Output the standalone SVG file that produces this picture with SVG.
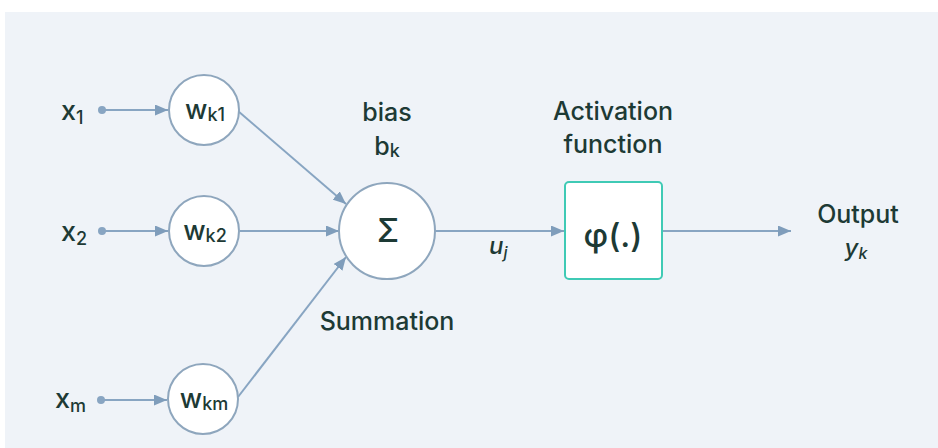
<svg xmlns="http://www.w3.org/2000/svg" width="938" height="448" viewBox="0 0 938 448">
<style>
.t{font-family:Inter,"Noto Sans","DejaVu Sans",sans-serif;fill:#1d3a35;font-weight:500}
.lbl{font-size:25px;text-anchor:middle}
.node{fill:#ffffff;stroke:#8ea6bd;stroke-width:2}
.edge{stroke:#88a5c2;stroke-width:2;fill:none}
.big{font-size:27px}
.sub{font-size:18px}
.dot{fill:#88a5c2}
</style>
<defs>
<marker id="ah" viewBox="0 0 13 11" refX="13" refY="5.5" markerWidth="13" markerHeight="11" markerUnits="userSpaceOnUse" orient="auto">
<path d="M0,0 L13,5.5 L0,11 z" fill="#7f9dbb"/>
</marker>
</defs>
<rect x="0" y="0" width="938" height="448" fill="#ffffff"/>
<rect x="5" y="12" width="933" height="436" fill="#eff3f8"/>

<g id="connectors">
<circle class="dot" cx="102" cy="110" r="4"/>
<line class="edge" x1="102" y1="110" x2="168" y2="110" marker-end="url(#ah)"/>
<circle class="dot" cx="102" cy="231" r="4"/>
<line class="edge" x1="102" y1="231" x2="168" y2="231" marker-end="url(#ah)"/>
<circle class="dot" cx="101" cy="400" r="4"/>
<line class="edge" x1="101" y1="400" x2="167" y2="400" marker-end="url(#ah)"/>
<line class="edge" x1="238" y1="111" x2="346" y2="204" marker-end="url(#ah)"/>
<line class="edge" x1="240" y1="231" x2="339" y2="231" marker-end="url(#ah)"/>
<line class="edge" x1="238" y1="397" x2="346" y2="257" marker-end="url(#ah)"/>
<line class="edge" x1="435" y1="231" x2="564" y2="231" marker-end="url(#ah)"/>
<line class="edge" x1="662" y1="231" x2="791" y2="231" marker-end="url(#ah)"/>
</g>

<g id="x1"><text class="t" x="61" y="120"><tspan class="big">x</tspan><tspan class="sub" dy="4">1</tspan></text></g>
<g id="x2"><text class="t" x="61" y="241"><tspan class="big">x</tspan><tspan class="sub" dy="4">2</tspan></text></g>
<g id="xm"><text class="t" x="55" y="408"><tspan class="big">x</tspan><tspan class="sub" dy="4">m</tspan></text></g>

<g id="wk1"><circle class="node" cx="204" cy="110" r="35"/>
<text class="t" x="205" y="119" text-anchor="middle" font-weight="600"><tspan class="big">w</tspan><tspan class="sub" dy="2">k1</tspan></text></g>
<g id="wk2"><circle class="node" cx="204" cy="231" r="35"/>
<text class="t" x="205" y="240" text-anchor="middle" font-weight="600"><tspan class="big">w</tspan><tspan class="sub" dy="2">k2</tspan></text></g>
<g id="wkm"><circle class="node" cx="203" cy="399" r="35"/>
<text class="t" x="204" y="408" text-anchor="middle" font-weight="600"><tspan class="big">w</tspan><tspan class="sub" dy="2">km</tspan></text></g>

<g id="sum"><circle class="node" cx="387" cy="231" r="48"/>
<text class="t" x="388" y="242" text-anchor="middle" font-size="32" font-weight="700">Σ</text></g>
<g id="bias">
<text class="t lbl" x="387" y="121">bias</text>
<text class="t" x="387" y="155" text-anchor="middle"><tspan font-size="25">b</tspan><tspan class="sub" dy="2">k</tspan></text>
</g>
<g id="summation"><text class="t lbl" x="387" y="330">Summation</text></g>

<g id="uj"><text class="t" x="489" y="254" font-style="italic"><tspan font-size="24">u</tspan><tspan font-size="16" dy="4">j</tspan></text></g>

<g id="activation">
<text class="t lbl" x="613" y="120" font-size="26">Activation</text>
<text class="t lbl" x="613" y="153" font-size="26">function</text>
<rect x="565" y="182" width="97" height="97" rx="4" fill="#ffffff" stroke="#3fcab5" stroke-width="2"/>
<text class="t" x="613" y="247" text-anchor="middle" font-size="33">φ(.)</text>
</g>

<g id="output">
<text class="t lbl" x="858" y="223">Output</text>
<text class="t" x="856" y="256" font-style="italic" text-anchor="middle"><tspan font-size="24">y</tspan><tspan font-size="16" dy="3">k</tspan></text>
</g>
</svg>
